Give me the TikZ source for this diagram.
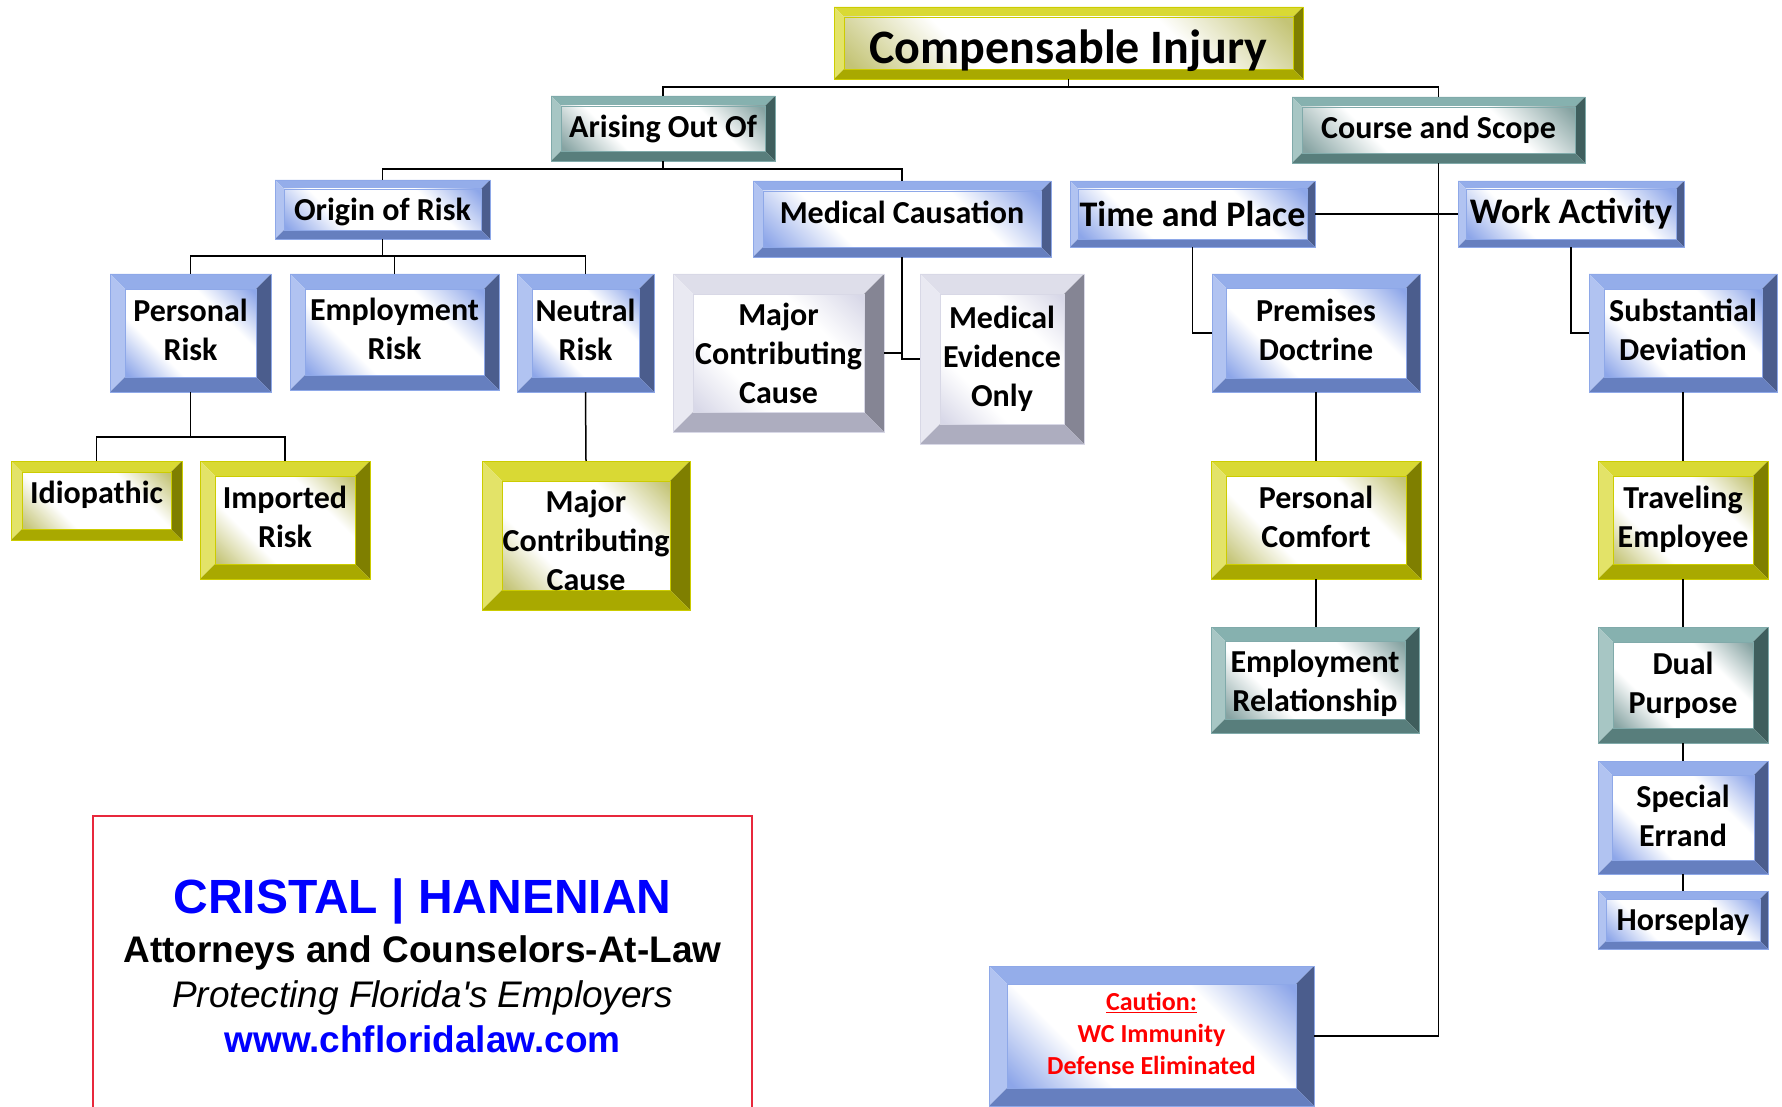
\documentclass[tikz,border=0pt]{standalone}
\usepackage{fontspec}
\newfontfamily\boxfont{Carlito}
\newfontfamily\firmfont{Liberation Sans}

% bevel colours: top, left, right, bottom, inner corner, rim
\definecolor{bluTop}{HTML}{94ADEA}\definecolor{bluLft}{HTML}{B1C3F1}
\definecolor{bluRgt}{HTML}{4B5D8D}\definecolor{bluBot}{HTML}{667FBF}
\definecolor{bluMid}{HTML}{8DA6E9}\definecolor{bluRim}{HTML}{8EA8E8}
\definecolor{yelTop}{HTML}{D9D934}\definecolor{yelLft}{HTML}{E3E368}
\definecolor{yelRgt}{HTML}{7F7F00}\definecolor{yelBot}{HTML}{A9A900}
\definecolor{yelMid}{HTML}{C4C476}\definecolor{yelRim}{HTML}{CCCC00}
\definecolor{teaTop}{HTML}{86B1AF}\definecolor{teaLft}{HTML}{A7C6C4}
\definecolor{teaRgt}{HTML}{3F5E5D}\definecolor{teaBot}{HTML}{587E7C}
\definecolor{teaMid}{HTML}{86A3A2}\definecolor{teaRim}{HTML}{80AAAA}
\definecolor{gryTop}{HTML}{DEDEEA}\definecolor{gryLft}{HTML}{E9E9F2}
\definecolor{gryRgt}{HTML}{858594}\definecolor{gryBot}{HTML}{ADADBF}
\definecolor{gryMid}{HTML}{D8D8E8}\definecolor{gryRim}{HTML}{D8D8E6}
\definecolor{firmred}{HTML}{E8283C}
\colorlet{bevc}{bluMid}

\pgfdeclarehorizontalshading[bevc]{bevglow}{100bp}{color(0bp)=(bevc); color(16bp)=(bevc);
  color(34bp)=(white); color(66bp)=(white); color(84bp)=(bevc); color(100bp)=(bevc)}

\tikzset{
  boxtext/.style={inner sep=0pt, align=center, font=\boxfont\bfseries\fontsize{32}{39}\selectfont},
  link/.style={draw=black, line width=1.5pt},
  firmline/.style={inner sep=0pt, anchor=base, font=\firmfont\bfseries\fontsize{37}{44}\selectfont},
}

% [text options]{name}{colours}{bevel}{x1}{y1}{x2}{y2}{text}
\newcommand{\bevbox}[9][]{%
  \fill[#3Top] (#5,#6) -- (#7,#6) -- ({#7-#4},{#6+#4}) -- ({#5+#4},{#6+#4}) -- cycle;
  \fill[#3Lft] (#5,#6) -- ({#5+#4},{#6+#4}) -- ({#5+#4},{#8-#4}) -- (#5,#8) -- cycle;
  \fill[#3Rgt] (#7,#6) -- (#7,#8) -- ({#7-#4},{#8-#4}) -- ({#7-#4},{#6+#4}) -- cycle;
  \fill[#3Bot] (#5,#8) -- (#7,#8) -- ({#7-#4},{#8-#4}) -- ({#5+#4},{#8-#4}) -- cycle;
  \colorlet{bevc}{#3Mid}%
  \shade[shading=bevglow, shading angle=45] ({#5+#4},{#6+#4}) rectangle ({#7-#4},{#8-#4});
  \draw[#3Rim, line width=0.8pt] (#5,#6) rectangle (#7,#8);
  \draw[#3Rim, line width=0.6pt] ({#5+#4},{#6+#4}) rectangle ({#7-#4},{#8-#4});
  \node[inner sep=0pt, minimum width={(#7-#5)*1pt}, minimum height={(#8-#6)*1pt},
    label={[boxtext,#1]center:{#9}}] (#2) at ({(#5+#7)/2},{(#6+#8)/2}) {};
}

\begin{document}
\begin{tikzpicture}[x=1pt, y=-1pt]
  \useasboundingbox (0,0) rectangle (1782,1107);

  \bevbox[font=\boxfont\bfseries\fontsize{48}{58}\selectfont, yshift=-8pt]{comp}{yel}{10}{834}{7}{1303}{79}{Compensable Injury}
  \bevbox{arise}{tea}{10}{551}{96}{775}{161}{Arising Out Of}
  \bevbox{course}{tea}{10}{1292}{97}{1585}{163}{Course and Scope}

  \bevbox[yshift=-2pt]{origin}{blu}{9}{275}{180}{490}{239}{Origin of Risk}
  \bevbox[yshift=7pt]{medc}{blu}{10}{753}{181}{1051}{257}{Medical Causation}
  \bevbox[font=\boxfont\bfseries\fontsize{36}{44}\selectfont]{tap}{blu}{8}{1070}{181}{1315}{247}{Time and Place}
  \bevbox[font=\boxfont\bfseries\fontsize{36}{44}\selectfont]{work}{blu}{8}{1458}{181}{1684}{247}{Work Activity}

  \bevbox[yshift=3.5pt]{persr}{blu}{15}{110}{274}{271}{392}{Personal\\Risk}
  \bevbox[yshift=3.5pt]{empr}{blu}{15}{290}{274}{499}{390}{Employment\\Risk}
  \bevbox[yshift=3.5pt]{neur}{blu}{15}{517}{274}{654}{392}{Neutral\\Risk}
  \bevbox{mccg}{gry}{20}{673}{274}{884}{432}{Major\\Contributing\\Cause}
  \bevbox{meo}{gry}{20}{920}{274}{1084}{444}{Medical\\Evidence\\Only}
  \bevbox[yshift=3pt]{prem}{blu}{14}{1212}{274}{1420}{392}{Premises\\Doctrine}
  \bevbox[yshift=3pt]{subd}{blu}{15}{1589}{274}{1777}{392}{Substantial\\Deviation}

  \bevbox[yshift=6pt]{idio}{yel}{11}{11}{461}{182}{540}{Idiopathic}
  \bevbox[yshift=3.5pt]{impr}{yel}{15}{200}{461}{370}{579}{Imported\\Risk}
  \bevbox[yshift=-4.5pt]{mccy}{yel}{20}{482}{461}{690}{610}{Major\\Contributing\\Cause}
  \bevbox[yshift=3.5pt]{pcom}{yel}{15}{1211}{461}{1421}{579}{Personal\\Comfort}
  \bevbox[yshift=1pt]{trav}{yel}{15}{1598}{461}{1768}{579}{Traveling\\Employee}

  \bevbox[yshift=-3.5pt]{emrel}{tea}{14}{1211}{627}{1419}{733}{Employment\\Relationship}
  \bevbox{dual}{tea}{15}{1598}{627}{1768}{743}{Dual\\Purpose}
  \bevbox[yshift=2pt]{spec}{blu}{14}{1598}{761}{1768}{874}{Special\\Errand}
  \bevbox[yshift=-2pt]{horse}{blu}{8}{1598}{891}{1768}{949}{Horseplay}
  \bevbox[font=\boxfont\bfseries\fontsize{26}{32}\selectfont, text=red, yshift=2.5pt]{caut}{blu}{18}{989}{966}{1314}{1106}{\underline{Caution:}\\WC Immunity\\Defense Eliminated}

  % bus lines
  \coordinate (busTop) at (0,87);
  \coordinate (busArise) at (0,169);
  \coordinate (busOrigin) at (0,256);
  \coordinate (busPers) at (0,437);

  \draw[link] (comp.south) -- (comp.south |- busTop);
  \draw[link] (arise.north) |- (busTop -| course.north) -- (course.north);
  \draw[link] (arise.south) -- (arise.south |- busArise);
  \draw[link] (origin.north) |- (busArise -| medc.north) -- (medc.north);
  \draw[link] (origin.south) -- (origin.south |- busOrigin);
  \draw[link] (persr.north) |- (busOrigin -| neur.north) -- (neur.north);
  \draw[link] (empr.north) -- (empr.north |- busOrigin);
  \draw[link] (persr.south) -- (persr.south |- busPers);
  \draw[link] (idio.north) |- (busPers -| impr.north) -- (impr.north);
  \draw[link] (neur.south) -- (mccy.north);

  \draw[link] (medc.south) |- (meo.west);
  \draw[link] (mccg.east) -| (medc.south);

  \draw[link] (course.south) |- (caut.east);
  \draw[link] (tap.east) -- (work.west);
  \draw[link] (tap.south) |- (prem.west);
  \draw[link] (work.south) |- (subd.west);
  \draw[link] (prem.south) -- (pcom.north);
  \draw[link] (pcom.south) -- (pcom.south |- emrel.north);
  \foreach \a/\b in {subd/trav, trav/dual, dual/spec, spec/horse}
    \draw[link] (\a.south) -- (\a.south |- \b.north);

  % firm box
  \draw[firmred, line width=2.2pt] (93,816) rectangle (752,1130);
  \node[firmline, font=\firmfont\bfseries\fontsize{48}{58}\selectfont, text=blue] (firmname) at (422.5,913) {CRISTAL | HANENIAN};
  \node[firmline] (firmsub) at (422.5,962) {Attorneys and Counselors-At-Law};
  \node[firmline, font=\firmfont\itshape\fontsize{37}{44}\selectfont] (firmtag) at (422.5,1007) {Protecting Florida\textquotesingle s Employers};
  \node[firmline, text=blue] (firmweb) at (422.5,1052) {www.chfloridalaw.com};
\end{tikzpicture}
\end{document}
